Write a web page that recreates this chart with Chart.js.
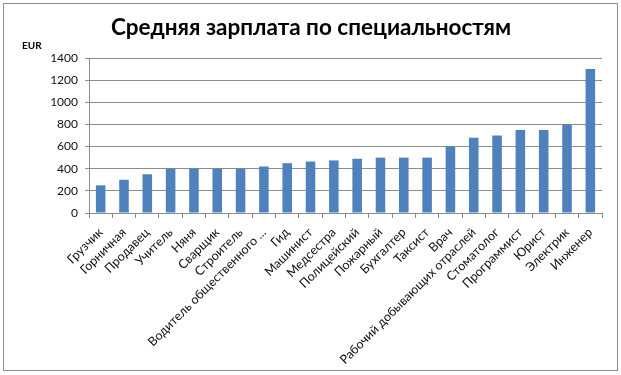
<!DOCTYPE html>
<html>
<head>
<meta charset="utf-8">
<script src="https://cdn.jsdelivr.net/npm/chart.js@4"></script>
<style>
  html, body { margin: 0; padding: 0; background: #fff; }
  #wrap { width: 621px; height: 375px; }
</style>
</head>
<body>
<div id="wrap"><canvas id="c"></canvas></div>
<script>
const categories = [
  "Грузчик", "Горничная", "Продавец", "Учитель", "Няня", "Сварщик", "Строитель",
  "Водитель общественного ...", "Гид", "Машинист", "Медсестра", "Полицейский",
  "Пожарный", "Бухгалтер", "Таксист", "Врач", "Рабочий добывающих отраслей",
  "Стоматолог", "Программист", "Юрист", "Электрик", "Инженер"
];
const salaries = [
  250, 300, 350, 400, 400, 400, 400,
  420, 450, 465, 475, 490,
  500, 500, 500, 600, 680,
  700, 750, 750, 800, 1300
];
const yTicks = [0, 200, 400, 600, 800, 1000, 1200, 1400];
const chartTitle = "Средняя зарплата по специальностям";
const unitLabel = "EUR";

// рамка, заголовок и подпись единиц
const decor = {
  id: "decor",
  afterDraw(chart) {
    const { ctx } = chart;
    ctx.save();
    ctx.strokeStyle = "#8c8c8c";
    ctx.lineWidth = 1;
    ctx.strokeRect(3.5, 3.5, 614, 367);
    ctx.fillStyle = "#000";
    ctx.textBaseline = "middle";
    ctx.textAlign = "center";
    ctx.font = "bold 22.5px Lato";
    ctx.fillText(chartTitle, 311, 28);
    ctx.textAlign = "left";
    ctx.font = "bold 10px Lato";
    ctx.fillText(unitLabel, 22, 46);
    ctx.restore();
  }
};

new Chart(document.getElementById("c"), {
  type: "bar",
  plugins: [decor],
  data: {
    labels: categories,
    datasets: [{
      data: salaries,
      backgroundColor: "#4f81bd",
      barPercentage: 0.41,
      categoryPercentage: 1.0
    }]
  },
  options: {
    responsive: true,
    maintainAspectRatio: false,
    animation: false,
    layout: { padding: { left: 0, right: 19, top: 58, bottom: 0 } },
    plugins: {
      legend: { display: false },
      tooltip: { enabled: false },
      title: { display: false }
    },
    scales: {
      x: {
        afterFit(s) { s.height = 162; },
        grid: { offset: true, drawOnChartArea: false, drawTicks: true, tickLength: 5, color: "#8c8c8c" },
        border: { color: "#8c8c8c" },
        ticks: {
          autoSkip: false,
          minRotation: 45,
          maxRotation: 45,
          color: "#111",
          padding: 7,
          font: { family: "Lato", size: 12.5 }
        }
      },
      y: {
        min: 0,
        max: 1400,
        afterFit(s) { s.width = 89; },
        afterBuildTicks(s) { s.ticks = yTicks.map(v => ({ value: v })); },
        grid: { color: "#8c8c8c", tickLength: 4 },
        border: { color: "#8c8c8c" },
        ticks: {
          color: "#111",
          padding: 7,
          font: { family: "Lato", size: 12 },
          callback: v => String(v)
        }
      }
    }
  }
});
</script>
</body>
</html>
